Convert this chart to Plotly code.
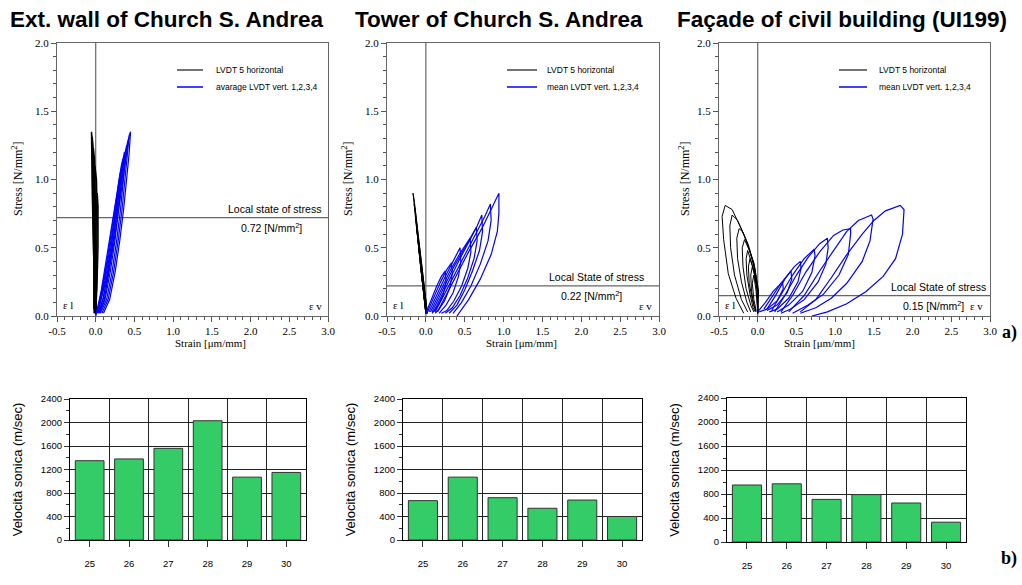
import plotly.graph_objects as go

W, H = 1022, 585

# ---------------- data ----------------
TITLES = ["Ext. wall of Church S. Andrea", "Tower of Church S. Andrea",
          "Façade of civil building (UI199)"]
LEGEND_BLACK = ["LVDT 5 horizontal"] * 3
LEGEND_BLUE = ["avarage LVDT vert. 1,2,3,4", "mean LVDT vert. 1,2,3,4",
               "mean LVDT vert. 1,2,3,4"]
STRESS_LOCAL = [0.72, 0.22, 0.15]
LOCAL_LABELS = ["Local state of stress", "Local State of stress", "Local State of stress"]
X_TICK_VALS = [-0.5, 0.0, 0.5, 1.0, 1.5, 2.0, 2.5, 3.0]
X_TICK_TEXT = ["-0.5", "0.0", "0.5", "1.0", "1.5", "2.0", "2.5", "3.0"]
Y_TICK_VALS = [0.0, 0.5, 1.0, 1.5, 2.0]
Y_TICK_TEXT = ["0.0", "0.5", "1.0", "1.5", "2.0"]

CATEGORIES = ["25", "26", "27", "28", "29", "30"]
VEL_1 = [1350, 1380, 1560, 2030, 1070, 1150]
VEL_2 = [670, 1070, 720, 540, 680, 400]
VEL_3 = [950, 970, 710, 790, 650, 330]

# panel 1 : horizontal LVDT loops (strain, stress)
P1_BLACK = [
    [(-0.01, 0.02), (-0.03, 0.45), (-0.045, 0.9), (-0.055, 1.35), (-0.045, 1.3), (-0.025, 0.9), (-0.01, 0.45), (0.0, 0.02)],
    [(-0.015, 0.02), (-0.03, 0.5), (-0.04, 0.95), (-0.045, 1.31), (-0.035, 1.25), (-0.015, 0.85), (0.0, 0.4), (0.005, 0.02)],
    [(-0.02, 0.02), (-0.025, 0.5), (-0.03, 0.9), (-0.03, 1.23), (-0.015, 1.15), (0.0, 0.8), (0.01, 0.4), (0.005, 0.02)],
    [(-0.025, 0.05), (-0.02, 0.5), (-0.015, 0.85), (-0.01, 1.1), (0.01, 1.0), (0.02, 0.7), (0.015, 0.3), (0.0, 0.02)],
    [(-0.02, 0.05), (-0.01, 0.4), (0.01, 0.75), (0.02, 0.9), (0.03, 0.8), (0.03, 0.5), (0.015, 0.2), (0.0, 0.03)],
]
P1_BLUE = [
    [(0.1, 0.02), (0.18, 0.12), (0.25, 0.32), (0.31, 0.55), (0.36, 0.78), (0.4, 1.0), (0.43, 1.18), (0.45, 1.35),
     (0.43, 1.32), (0.39, 1.15), (0.34, 0.95), (0.29, 0.75), (0.23, 0.52), (0.16, 0.3), (0.09, 0.12), (0.04, 0.03)],
    [(0.08, 0.02), (0.16, 0.12), (0.23, 0.32), (0.29, 0.55), (0.34, 0.78), (0.38, 1.0), (0.41, 1.17), (0.43, 1.31),
     (0.41, 1.27), (0.37, 1.12), (0.32, 0.92), (0.27, 0.72), (0.21, 0.5), (0.14, 0.28), (0.07, 0.11), (0.03, 0.03)],
    [(0.06, 0.02), (0.14, 0.12), (0.21, 0.32), (0.27, 0.55), (0.32, 0.78), (0.36, 1.0), (0.39, 1.15), (0.4, 1.25),
     (0.38, 1.2), (0.34, 1.05), (0.29, 0.86), (0.24, 0.67), (0.19, 0.48), (0.12, 0.26), (0.06, 0.1), (0.02, 0.02)],
    [(0.05, 0.02), (0.12, 0.12), (0.19, 0.33), (0.25, 0.56), (0.3, 0.8), (0.34, 1.02), (0.37, 1.2),
     (0.35, 1.14), (0.31, 0.98), (0.26, 0.8), (0.21, 0.6), (0.16, 0.42), (0.1, 0.23), (0.04, 0.08), (0.01, 0.02)],
    [(0.04, 0.02), (0.11, 0.12), (0.17, 0.32), (0.23, 0.56), (0.28, 0.8), (0.32, 1.0), (0.35, 1.15),
     (0.33, 1.1), (0.29, 0.95), (0.24, 0.76), (0.19, 0.57), (0.14, 0.38), (0.08, 0.2), (0.03, 0.06), (0.0, 0.01)],
    [(0.03, 0.02), (0.1, 0.13), (0.16, 0.33), (0.22, 0.58), (0.27, 0.82), (0.3, 0.96), (0.33, 1.08),
     (0.31, 1.03), (0.27, 0.88), (0.22, 0.7), (0.17, 0.52), (0.12, 0.34), (0.07, 0.18), (0.02, 0.05), (0.0, 0.0)],
]

# panel 2
P2_BLACK = [
    [(0.01, 0.02), (-0.06, 0.35), (-0.12, 0.65), (-0.165, 0.9), (-0.15, 0.85), (-0.1, 0.6), (-0.04, 0.3), (0.02, 0.02)],
    [(0.01, 0.02), (-0.055, 0.33), (-0.11, 0.6), (-0.15, 0.82), (-0.135, 0.77), (-0.09, 0.55), (-0.035, 0.28), (0.02, 0.02)],
    [(0.0, 0.02), (-0.05, 0.3), (-0.1, 0.55), (-0.135, 0.73), (-0.12, 0.68), (-0.08, 0.48), (-0.03, 0.24), (0.015, 0.02)],
    [(0.0, 0.02), (-0.045, 0.27), (-0.09, 0.5), (-0.12, 0.65), (-0.105, 0.6), (-0.07, 0.42), (-0.025, 0.2), (0.015, 0.02)],
    [(0.0, 0.02), (-0.04, 0.25), (-0.08, 0.44), (-0.105, 0.56), (-0.09, 0.52), (-0.06, 0.36), (-0.02, 0.17), (0.01, 0.02)],
    [(0.0, 0.02), (-0.035, 0.22), (-0.07, 0.38), (-0.09, 0.48), (-0.075, 0.44), (-0.045, 0.3), (-0.015, 0.14), (0.01, 0.02)],
    [(0.0, 0.02), (-0.03, 0.19), (-0.06, 0.32), (-0.075, 0.4), (-0.06, 0.36), (-0.035, 0.24), (-0.01, 0.12), (0.01, 0.02)],
    [(0.0, 0.02), (-0.025, 0.16), (-0.05, 0.27), (-0.06, 0.33), (-0.045, 0.29), (-0.025, 0.19), (-0.005, 0.09), (0.01, 0.02)],
]
P2_BLUE = [
    [(0.0, 0.02), (0.07, 0.12), (0.14, 0.22), (0.2, 0.29), (0.25, 0.33),
     (0.26, 0.25), (0.22, 0.15), (0.15, 0.07), (0.08, 0.02)],
    [(0.02, 0.03), (0.1, 0.14), (0.19, 0.25), (0.27, 0.34), (0.33, 0.39),
     (0.34, 0.31), (0.31, 0.21), (0.24, 0.11), (0.17, 0.05), (0.12, 0.02)],
    [(0.04, 0.03), (0.14, 0.16), (0.25, 0.29), (0.35, 0.4), (0.44, 0.5),
     (0.45, 0.4), (0.42, 0.29), (0.35, 0.17), (0.26, 0.08), (0.17, 0.02)],
    [(0.06, 0.03), (0.18, 0.18), (0.31, 0.33), (0.44, 0.46), (0.57, 0.57),
     (0.58, 0.47), (0.54, 0.35), (0.46, 0.22), (0.36, 0.11), (0.27, 0.04), (0.2, 0.02)],
    [(0.08, 0.03), (0.22, 0.2), (0.36, 0.36), (0.5, 0.5), (0.6, 0.6), (0.65, 0.65),
     (0.66, 0.55), (0.62, 0.42), (0.54, 0.28), (0.44, 0.15), (0.34, 0.06), (0.25, 0.02)],
    [(0.1, 0.03), (0.26, 0.22), (0.42, 0.4), (0.56, 0.55), (0.66, 0.66), (0.72, 0.74),
     (0.73, 0.62), (0.69, 0.48), (0.6, 0.33), (0.5, 0.19), (0.4, 0.08), (0.3, 0.02)],
    [(0.12, 0.03), (0.3, 0.23), (0.48, 0.43), (0.64, 0.6), (0.76, 0.73), (0.83, 0.82),
     (0.84, 0.7), (0.8, 0.55), (0.7, 0.38), (0.58, 0.22), (0.46, 0.1), (0.35, 0.02)],
    [(0.15, 0.03), (0.35, 0.25), (0.55, 0.47), (0.72, 0.64), (0.84, 0.78), (0.94, 0.9),
     (0.94, 0.75), (0.92, 0.62), (0.84, 0.45), (0.7, 0.27), (0.55, 0.12), (0.4, 0.0)],
]

# panel 3
P3_BLACK = [
    [(0.0, 0.02), (0.01, 0.19), (-0.05, 0.39), (-0.18, 0.6), (-0.33, 0.78), (-0.42, 0.81),
     (-0.46, 0.73), (-0.44, 0.56), (-0.38, 0.31), (-0.28, 0.13), (-0.18, 0.02)],
    [(0.0, 0.02), (0.0, 0.2), (-0.05, 0.38), (-0.15, 0.56), (-0.26, 0.7), (-0.33, 0.74),
     (-0.36, 0.66), (-0.35, 0.5), (-0.3, 0.3), (-0.21, 0.12), (-0.13, 0.03)],
    [(0.0, 0.02), (0.0, 0.2), (-0.04, 0.36), (-0.12, 0.52), (-0.2, 0.62), (-0.24, 0.64),
     (-0.27, 0.57), (-0.26, 0.42), (-0.21, 0.25), (-0.14, 0.1), (-0.09, 0.03)],
    [(0.0, 0.02), (0.0, 0.18), (-0.04, 0.34), (-0.1, 0.47), (-0.17, 0.56),
     (-0.2, 0.5), (-0.19, 0.36), (-0.15, 0.2), (-0.09, 0.08), (-0.05, 0.03)],
    [(0.0, 0.02), (0.0, 0.18), (-0.04, 0.32), (-0.09, 0.42), (-0.13, 0.48),
     (-0.15, 0.42), (-0.14, 0.3), (-0.1, 0.16), (-0.06, 0.06), (-0.03, 0.03)],
    [(0.0, 0.02), (-0.01, 0.2), (-0.05, 0.33), (-0.1, 0.42),
     (-0.12, 0.36), (-0.11, 0.24), (-0.07, 0.12), (-0.03, 0.04)],
    [(0.0, 0.03), (-0.01, 0.2), (-0.04, 0.3), (-0.07, 0.36),
     (-0.09, 0.3), (-0.08, 0.18), (-0.05, 0.08), (-0.02, 0.03)],
    [(0.0, 0.03), (-0.02, 0.18), (-0.05, 0.3),
     (-0.07, 0.24), (-0.05, 0.12), (-0.02, 0.04)],
]
P3_BLUE = [
    [(0.0, 0.03), (0.1, 0.1), (0.2, 0.18), (0.32, 0.25),
     (0.33, 0.2), (0.25, 0.11), (0.12, 0.05), (0.02, 0.03)],
    [(0.08, 0.05), (0.18, 0.14), (0.3, 0.24), (0.43, 0.33),
     (0.44, 0.27), (0.38, 0.17), (0.25, 0.08), (0.12, 0.04)],
    [(0.12, 0.05), (0.22, 0.14), (0.35, 0.27), (0.47, 0.36), (0.55, 0.4),
     (0.56, 0.35), (0.52, 0.25), (0.4, 0.13), (0.25, 0.05), (0.15, 0.03)],
    [(0.18, 0.04), (0.3, 0.16), (0.45, 0.3), (0.6, 0.42), (0.73, 0.49),
     (0.74, 0.44), (0.7, 0.32), (0.58, 0.18), (0.4, 0.08), (0.25, 0.03)],
    [(0.22, 0.03), (0.35, 0.15), (0.5, 0.3), (0.65, 0.43), (0.8, 0.53), (0.9, 0.57),
     (0.91, 0.5), (0.88, 0.38), (0.78, 0.25), (0.6, 0.12), (0.42, 0.05), (0.3, 0.02)],
    [(0.3, 0.03), (0.45, 0.15), (0.62, 0.32), (0.8, 0.47), (0.98, 0.59), (1.1, 0.63), (1.2, 0.64),
     (1.2, 0.6), (1.17, 0.45), (1.05, 0.3), (0.85, 0.16), (0.65, 0.08), (0.45, 0.02)],
    [(0.4, 0.03), (0.6, 0.15), (0.8, 0.33), (1.0, 0.5), (1.15, 0.62), (1.3, 0.7), (1.47, 0.74),
     (1.49, 0.71), (1.45, 0.55), (1.35, 0.4), (1.15, 0.24), (0.95, 0.13), (0.75, 0.06), (0.55, 0.02)],
    [(0.55, 0.03), (0.75, 0.12), (0.95, 0.28), (1.15, 0.45), (1.35, 0.6), (1.5, 0.7), (1.65, 0.77),
     (1.84, 0.81), (1.89, 0.78), (1.87, 0.6), (1.78, 0.42), (1.62, 0.29), (1.4, 0.18), (1.15, 0.09),
     (0.9, 0.03), (0.7, 0.0)],
]

BLACK_LOOPS = [P1_BLACK, P2_BLACK, P3_BLACK]
BLUE_LOOPS = [P1_BLUE, P2_BLUE, P3_BLUE]
VELOCITIES = [VEL_1, VEL_2, VEL_3]

# ---------------- layout geometry (pixels) ----------------
TOP_X = [(57, 328), (387, 659), (719, 990)]
TOP_Y = (43, 316)
BOT_X = [(70, 306), (403, 642), (727, 966)]
BOT_Y = [(399, 540), (399, 540), (398, 542)]

SERIF = "Liberation Serif, Times New Roman, serif"
SANS = "Liberation Sans, Arial, sans-serif"
NARROW = "Liberation Sans Narrow, Arial Narrow, Liberation Sans, sans-serif"


def px(x):
    return x / W


def py(y):
    return 1 - y / H


def flatten(loops):
    xs, ys = [], []
    for loop in loops:
        for (a, b) in loop:
            xs.append(a)
            ys.append(b)
        xs.append(None)
        ys.append(None)
    return xs, ys


fig = go.Figure()
layout = dict(width=W, height=H, autosize=False,
              margin=dict(l=0, r=0, t=0, b=0, pad=0, autoexpand=False),
              paper_bgcolor="white", plot_bgcolor="white", showlegend=False)
shapes, annotations = [], []

for i in range(3):
    n = i + 1
    xa, ya = f"x{n}" if n > 1 else "x", f"y{n}" if n > 1 else "y"
    # reference lines (behind curves)
    shapes.append(dict(type="line", xref=xa, yref=f"{ya} domain", x0=0, x1=0, y0=0, y1=1,
                       line=dict(color="#666", width=1.2), layer="below"))
    shapes.append(dict(type="line", xref=f"{xa} domain", yref=ya, x0=0, x1=1,
                       y0=STRESS_LOCAL[i], y1=STRESS_LOCAL[i],
                       line=dict(color="#666", width=1.2), layer="below"))
    bx, by = flatten(BLACK_LOOPS[i])
    fig.add_trace(go.Scatter(x=bx, y=by, mode="lines", xaxis=xa, yaxis=ya,
                             line=dict(color="black", width=1.4 if i == 0 else 1), hoverinfo="skip"))
    ux, uy = flatten(BLUE_LOOPS[i])
    fig.add_trace(go.Scatter(x=ux, y=uy, mode="lines", xaxis=xa, yaxis=ya,
                             line=dict(color="#0000ff", width=1.2), hoverinfo="skip"))
    x0, x1 = TOP_X[i]
    layout[f"xaxis{n}" if n > 1 else "xaxis"] = dict(
        domain=[px(x0), px(x1)], range=[-0.5, 3.0], anchor=ya, automargin=False,
        tickmode="array", tickvals=X_TICK_VALS, ticktext=X_TICK_TEXT,
        ticks="outside", ticklen=5, tickcolor="#555", tickwidth=1,
        minor=dict(dtick=0.1, tick0=0, ticks="outside", ticklen=3, tickcolor="#555", showgrid=False),
        showline=True, linecolor="#666", linewidth=1.2, mirror=True,
        showgrid=False, zeroline=False,
        tickfont=dict(family=SERIF, size=11, color="black"))
    layout[f"yaxis{n}" if n > 1 else "yaxis"] = dict(
        domain=[py(TOP_Y[1]), py(TOP_Y[0])], range=[0, 2.0], anchor=xa, automargin=False,
        tickmode="array", tickvals=Y_TICK_VALS, ticktext=Y_TICK_TEXT,
        ticks="outside", ticklen=5, tickcolor="#555", tickwidth=1,
        minor=dict(dtick=0.1, tick0=0, ticks="outside", ticklen=3, tickcolor="#555", showgrid=False),
        showline=True, linecolor="#666", linewidth=1.2, mirror=True,
        showgrid=False, zeroline=False,
        tickfont=dict(family=SERIF, size=11, color="black"))

    # legend (manual)
    lx0 = [177, 507, 839][i]
    lx1 = [203, 537, 867][i]
    ltx = [214, 545, 877][i]
    shapes.append(dict(type="line", xref="paper", yref="paper", x0=px(lx0), x1=px(lx1),
                       y0=py(70), y1=py(70), line=dict(color="#444", width=1.5)))
    shapes.append(dict(type="line", xref="paper", yref="paper", x0=px(lx0), x1=px(lx1),
                       y0=py(87), y1=py(87), line=dict(color="#0000ff", width=1.5)))
    annotations.append(dict(x=px(ltx), y=py(70), xref="paper", yref="paper", text=LEGEND_BLACK[i],
                            showarrow=False, xanchor="left", yanchor="middle",
                            font=dict(family=SANS, size=8.5, color="black")))
    annotations.append(dict(x=px(ltx), y=py(87), xref="paper", yref="paper", text=LEGEND_BLUE[i],
                            showarrow=False, xanchor="left", yanchor="middle",
                            font=dict(family=SANS, size=8.5, color="black")))

    # local stress labels
    lr = [323, 646, 988][i]
    annotations.append(dict(x=px(lr), y=STRESS_LOCAL[i], xref="paper", yref=ya,
                            text=LOCAL_LABELS[i], showarrow=False, xanchor="right", yanchor="bottom",
                            yshift=1, font=dict(family=SANS, size=10.5, color="black")))
    vx = [239, 559, 901][i]
    annotations.append(dict(x=px(vx), y=STRESS_LOCAL[i], xref="paper", yref=ya,
                            text=f"{STRESS_LOCAL[i]:.2f} [N/mm<sup>2</sup>]", showarrow=False,
                            xanchor="left", yanchor="top", yshift=-1,
                            font=dict(family=SANS, size=10.5, color="black")))
    # epsilon labels
    annotations.append(dict(x=px(x0 + 4), y=py(305), xref="paper", yref="paper", text="ε l",
                            showarrow=False, xanchor="left", yanchor="middle",
                            font=dict(family=SERIF, size=11, color="black")))
    evx = [307, 637, 968][i]
    annotations.append(dict(x=px(evx), y=py(306), xref="paper", yref="paper", text="ε v",
                            showarrow=False, xanchor="left", yanchor="middle",
                            font=dict(family=SERIF, size=11, color="black")))
    # axis titles
    stx = [173, 521, 857][i]
    annotations.append(dict(x=px(stx), y=py(343), xref="paper", yref="paper",
                            text="Strain [μm/mm]", showarrow=False,
                            font=dict(family=SERIF, size=11, color="black")))
    ssx = [17, 347, 684][i]
    annotations.append(dict(x=px(ssx), y=py(179), xref="paper", yref="paper",
                            text="Stress [N/mm<sup>2</sup>]", showarrow=False, textangle=-90,
                            xanchor="center", yanchor="middle",
                            font=dict(family=SERIF, size=12, color="black")))
    # title
    tx = [8, 353, 675][i]
    annotations.append(dict(x=px(tx), y=py(20), xref="paper", yref="paper", text=f"<b>{TITLES[i]}</b>",
                            showarrow=False, xanchor="left", yanchor="middle",
                            font=dict(family=NARROW, size=22.5, color="black")))

# ---------------- bar charts ----------------
cat_pos = list(range(len(CATEGORIES)))
bounds = [p + 0.5 for p in cat_pos[:-1]]
for i in range(3):
    n = i + 4
    xa, ya = f"x{n}", f"y{n}"
    fig.add_trace(go.Bar(x=cat_pos, y=VELOCITIES[i], xaxis=xa, yaxis=ya, width=0.73,
                         marker=dict(color="#34cc66", line=dict(color="#333", width=1)),
                         hoverinfo="skip"))
    x0, x1 = BOT_X[i]
    y0, y1 = BOT_Y[i]
    layout[f"xaxis{n}"] = dict(
        domain=[px(x0), px(x1)], range=[-0.5, len(CATEGORIES) - 0.5], anchor=ya, automargin=False,
        tickmode="array", tickvals=cat_pos, ticktext=CATEGORIES,
        ticks="outside", ticklen=6, tickcolor="#333", ticklabelstandoff=8,
        minor=dict(tickmode="array", tickvals=bounds, showgrid=True, gridcolor="#222",
                   gridwidth=1, ticks=""),
        showline=True, linecolor="black", linewidth=1.2, mirror=True,
        showgrid=False, zeroline=False,
        tickfont=dict(family=SANS, size=9.5, color="black"))
    layout[f"yaxis{n}"] = dict(
        domain=[py(y1), py(y0)], range=[0, 2400], anchor=xa, automargin=False,
        tickmode="linear", tick0=0, dtick=400,
        ticks="outside", ticklen=5, tickcolor="#333",
        minor=dict(dtick=200, tick0=0, ticks="outside", ticklen=3, tickcolor="#333", showgrid=False),
        showline=True, linecolor="black", linewidth=1.2, mirror=True,
        showgrid=True, gridcolor="#222", gridwidth=1, zeroline=False,
        title=dict(text="Velocità sonica (m/sec)", standoff=15,
                   font=dict(family=SANS, size=13, color="black")),
        tickfont=dict(family=SANS, size=9.5, color="black"))

annotations.append(dict(x=px(1019), y=py(332), xref="paper", yref="paper", text="<b>a)</b>",
                        showarrow=False, xanchor="right",
                        font=dict(family=SERIF, size=18, color="black")))
annotations.append(dict(x=px(1019), y=py(571), xref="paper", yref="paper", text="<b>b)</b>",
                        showarrow=False, xanchor="right",
                        font=dict(family=SERIF, size=18, color="black")))

layout["shapes"] = shapes
layout["annotations"] = annotations
fig.update_layout(**layout)
fig.write_html("out.html", config={"displayModeBar": False},
               post_script="document.body.style.margin='0px';")
